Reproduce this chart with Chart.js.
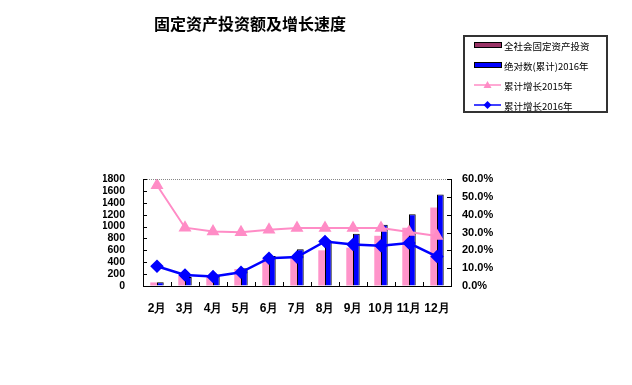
<!DOCTYPE html>
<html>
<head>
<meta charset="utf-8">
<script src="https://cdn.jsdelivr.net/npm/chart.js@4/dist/chart.umd.min.js"></script>
<style>
    body { margin: 0; background: #fff; }
    canvas { display: block; }
</style>
</head>
<body>
<canvas id="investChart" width="632" height="385"></canvas>
<script>
const months = ['2月', '3月', '4月', '5月', '6月', '7月', '8月', '9月', '10月', '11月', '12月'];
const investTotal = [60, 170, 170, 285, 455, 470, 600, 645, 845, 980, 1320];
const invest2016 = [65, 150, 190, 300, 505, 620, 765, 880, 1030, 1205, 1540];
const growth2015 = [56.5, 32.7, 30.6, 30.1, 31.6, 32.5, 32.5, 32.5, 32.5, 30.3, 28.0];
const growth2016 = [11.1, 6.2, 5.3, 7.7, 15.6, 16.2, 25.0, 23.3, 22.6, 24.1, 16.5];
const leftTicks = [0, 1800, 200];
const rightTicks = [0, 60, 10];

const chartTitle = '固定资产投资额及增长速度';
const legendNames = ['全社会固定资产投资', '绝对数(累计)2016年', '累计增长2015年', '累计增长2016年'];

const titleAndLegend = {
    id: 'titleAndLegend',
    afterDraw(chart) {
        const ctx = chart.ctx;
        const area = chart.chartArea;
        ctx.save();

        // dotted top border of plot area
        ctx.strokeStyle = '#888';
        ctx.lineWidth = 1;
        ctx.setLineDash([1, 1]);
        ctx.beginPath();
        ctx.moveTo(area.left, area.top + 0.5);
        ctx.lineTo(area.right, area.top + 0.5);
        ctx.stroke();
        ctx.setLineDash([]);

        // small inward tick marks, spreadsheet style
        ctx.strokeStyle = '#000';
        ctx.lineWidth = 1;
        ctx.beginPath();
        chart.scales.y.ticks.forEach(t => {
            const py = Math.round(chart.scales.y.getPixelForValue(t.value)) + 0.5;
            ctx.moveTo(area.left, py);
            ctx.lineTo(area.left + 4, py);
        });
        chart.scales.y1.ticks.forEach(t => {
            const py = Math.round(chart.scales.y1.getPixelForValue(t.value)) + 0.5;
            ctx.moveTo(area.right, py);
            ctx.lineTo(area.right - 4, py);
        });
        const step = (area.right - area.left) / months.length;
        for (let i = 1; i < months.length; i++) {
            const px = Math.round(area.left + step * i) + 0.5;
            ctx.moveTo(px, area.bottom);
            ctx.lineTo(px, area.bottom - 4);
        }
        ctx.stroke();

        // title
        ctx.fillStyle = '#000';
        ctx.font = 'bold 16px "Noto Sans CJK SC"';
        ctx.textAlign = 'center';
        ctx.textBaseline = 'middle';
        ctx.fillText(chartTitle, 250, 24);

        // legend box
        ctx.strokeStyle = '#333';
        ctx.lineWidth = 2;
        ctx.strokeRect(464, 36, 143, 76);

        const rows = [45, 65, 85, 105];
        ctx.font = '9.5px "Noto Sans CJK SC"';
        ctx.textAlign = 'left';

        // bar swatches
        ctx.lineWidth = 1;
        ctx.fillStyle = '#993366';
        ctx.fillRect(474, rows[0] - 2, 27, 4);
        ctx.strokeStyle = '#000';
        ctx.strokeRect(474.5, rows[0] - 2.5, 27, 5);
        ctx.fillStyle = '#0000ff';
        ctx.fillRect(474, rows[1] - 2, 27, 4);
        ctx.strokeRect(474.5, rows[1] - 2.5, 27, 5);

        // line swatches
        ctx.strokeStyle = '#ff8cc6';
        ctx.lineWidth = 1.5;
        ctx.beginPath();
        ctx.moveTo(474, rows[2]);
        ctx.lineTo(501, rows[2]);
        ctx.stroke();
        ctx.fillStyle = '#ff8cc6';
        ctx.beginPath();
        ctx.moveTo(487.5, rows[2] - 4);
        ctx.lineTo(491.5, rows[2] + 3);
        ctx.lineTo(483.5, rows[2] + 3);
        ctx.closePath();
        ctx.fill();

        ctx.strokeStyle = '#0000ff';
        ctx.beginPath();
        ctx.moveTo(474, rows[3]);
        ctx.lineTo(501, rows[3]);
        ctx.stroke();
        ctx.fillStyle = '#0000ff';
        ctx.beginPath();
        ctx.moveTo(487.5, rows[3] - 4);
        ctx.lineTo(491.5, rows[3]);
        ctx.lineTo(487.5, rows[3] + 4);
        ctx.lineTo(483.5, rows[3]);
        ctx.closePath();
        ctx.fill();

        ctx.fillStyle = '#000';
        legendNames.forEach((name, i) => {
            ctx.fillText(name, 504, rows[i] + 1);
        });
        ctx.restore();
    }
};

const ctx = document.getElementById('investChart').getContext('2d');

new Chart(ctx, {
    type: 'bar',
    data: {
        labels: months,
        datasets: [
            {
                type: 'line',
                label: legendNames[3],
                data: growth2016,
                yAxisID: 'y1',
                borderColor: '#0000ff',
                backgroundColor: '#0000ff',
                borderWidth: 2.5,
                pointStyle: 'rectRot',
                pointRadius: 5,
                tension: 0,
                order: 0
            },
            {
                type: 'line',
                label: legendNames[2],
                data: growth2015,
                yAxisID: 'y1',
                borderColor: '#ff8cc6',
                backgroundColor: '#ff8cc6',
                borderWidth: 2,
                pointStyle: 'triangle',
                pointRadius: 5.5,
                tension: 0,
                order: 1
            },
            {
                label: legendNames[0],
                data: investTotal,
                yAxisID: 'y',
                backgroundColor: '#ff94ca',
                borderWidth: 0,
                categoryPercentage: 0.48,
                barPercentage: 1.0,
                order: 2
            },
            {
                label: legendNames[1],
                data: invest2016,
                yAxisID: 'y',
                backgroundColor: '#0000ff',
                borderColor: '#000',
                borderWidth: 1,
                categoryPercentage: 0.48,
                barPercentage: 1.0,
                order: 2
            }
        ]
    },
    options: {
        responsive: false,
        animation: false,
        layout: {
            padding: { left: 103, right: 131, top: 179, bottom: 69 }
        },
        plugins: {
            legend: { display: false },
            title: { display: false },
            tooltip: { enabled: false }
        },
        scales: {
            x: {
                offset: true,
                grid: { display: false, drawTicks: false },
                border: { display: true, color: '#000', width: 1 },
                ticks: {
                    color: '#000',
                    padding: 15,
                    maxRotation: 0,
                    autoSkip: false,
                    font: { family: 'Liberation Sans', size: 12, weight: 'bold' }
                },
                afterFit(scale) { scale.height = 30; }
            },
            y: {
                position: 'left',
                min: leftTicks[0],
                max: leftTicks[1],
                grid: { drawOnChartArea: false, drawTicks: false },
                border: { display: true, color: '#000', width: 1 },
                ticks: {
                    stepSize: leftTicks[2],
                    autoSkip: false,
                    color: '#000',
                    padding: 18,
                    font: { family: 'Liberation Sans', size: 10.5, weight: 'bold' },
                    callback: v => String(v)
                },
                afterFit(scale) { scale.width = 40; }
            },
            y1: {
                position: 'right',
                min: rightTicks[0],
                max: rightTicks[1],
                grid: { drawOnChartArea: false, drawTicks: false },
                border: { display: true, color: '#000', width: 1 },
                ticks: {
                    stepSize: rightTicks[2],
                    autoSkip: false,
                    color: '#000',
                    padding: 11,
                    font: { family: 'Liberation Sans', size: 11, weight: 'bold' },
                    callback: v => v.toFixed(1) + '%'
                },
                afterFit(scale) { scale.width = 50; }
            }
        }
    },
    plugins: [titleAndLegend]
});
</script>
</body>
</html>
